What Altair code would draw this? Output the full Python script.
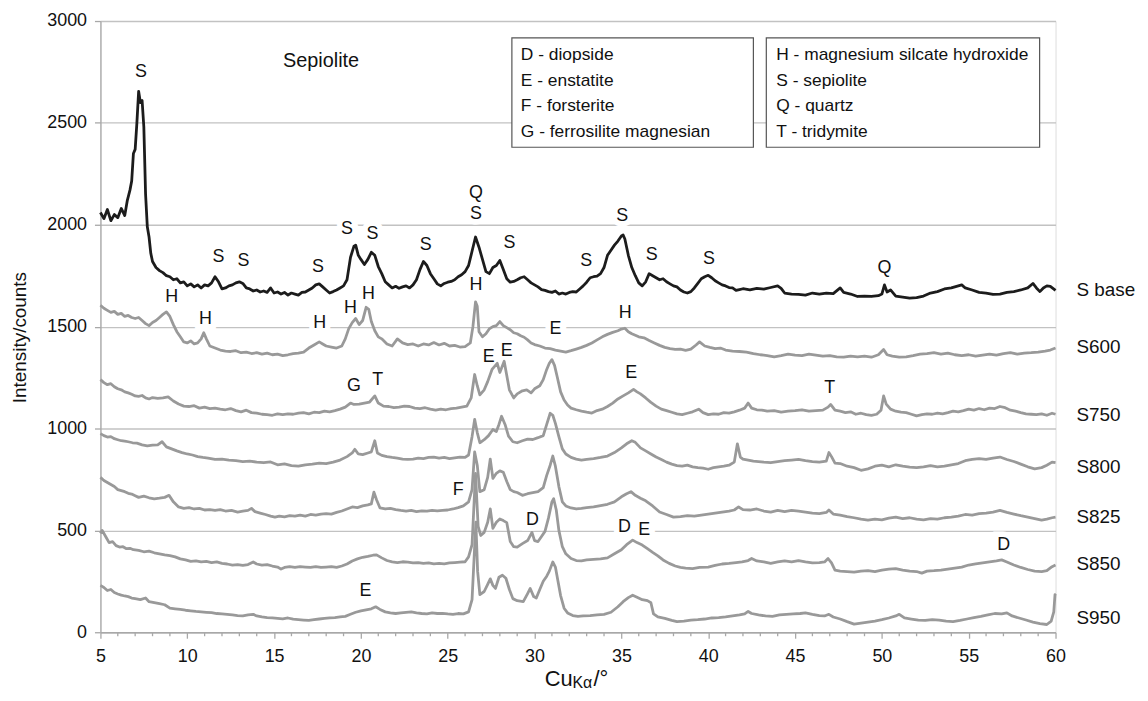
import altair as alt
import pandas as pd

# ---------------- data ----------------
S_BASE = [(5.0,2060),(5.2,2030),(5.4,2075),(5.6,2020),(5.8,2050),(6.0,2035),(6.2,2080),(6.4,2045),(6.55,2120),(6.7,2170),(6.8,2215),(6.9,2350),(7.0,2370),(7.1,2500),(7.2,2655),(7.3,2600),(7.4,2610),(7.5,2480),(7.6,2150),(7.7,1990),(7.8,1940),(7.9,1860),(8.0,1820),(8.2,1790),(8.4,1775),(8.6,1765),(8.8,1750),(9.0,1745),(9.2,1730),(9.4,1735),(9.6,1715),(9.8,1720),(10.0,1700),(10.2,1710),(10.4,1695),(10.6,1705),(10.8,1690),(11.0,1705),(11.2,1700),(11.4,1715),(11.6,1745),(11.8,1720),(12.0,1685),(12.2,1690),(12.4,1700),(12.6,1705),(12.8,1715),(13.0,1720),(13.2,1712),(13.4,1690),(13.6,1685),(13.8,1675),(14.0,1680),(14.2,1670),(14.4,1675),(14.6,1668),(14.8,1690),(15.0,1665),(15.2,1670),(15.4,1660),(15.6,1668),(15.8,1655),(16.0,1665),(16.2,1660),(16.4,1655),(16.6,1668),(16.8,1670),(17.0,1680),(17.2,1690),(17.4,1705),(17.6,1710),(17.8,1695),(18.0,1680),(18.2,1665),(18.4,1672),(18.6,1680),(18.8,1690),(19.0,1700),(19.2,1730),(19.4,1840),(19.6,1895),(19.7,1900),(19.85,1850),(20.0,1830),(20.2,1805),(20.4,1830),(20.6,1865),(20.8,1850),(21.0,1795),(21.2,1760),(21.4,1720),(21.6,1705),(21.8,1690),(22.0,1698),(22.2,1688),(22.4,1695),(22.6,1700),(22.8,1690),(23.0,1705),(23.2,1730),(23.4,1780),(23.6,1820),(23.8,1800),(24.0,1760),(24.2,1735),(24.4,1710),(24.6,1700),(24.8,1712),(25.0,1718),(25.2,1722),(25.4,1730),(25.6,1745),(25.8,1755),(26.0,1770),(26.2,1800),(26.4,1870),(26.6,1940),(26.8,1890),(27.0,1830),(27.2,1770),(27.4,1760),(27.6,1790),(27.8,1800),(28.0,1825),(28.2,1780),(28.4,1735),(28.6,1718),(28.8,1722),(29.0,1730),(29.2,1740),(29.4,1745),(29.6,1730),(29.8,1715),(30.0,1705),(30.2,1695),(30.4,1682),(30.6,1678),(30.8,1672),(31.0,1668),(31.2,1675),(31.4,1660),(31.6,1665),(31.8,1660),(32.0,1668),(32.2,1672),(32.4,1670),(32.6,1685),(32.8,1700),(33.0,1718),(33.2,1740),(33.4,1745),(33.6,1748),(33.8,1760),(34.0,1790),(34.2,1850),(34.4,1875),(34.6,1900),(34.8,1920),(35.0,1945),(35.1,1950),(35.2,1930),(35.4,1850),(35.6,1790),(35.8,1750),(36.0,1715),(36.2,1700),(36.4,1720),(36.6,1760),(36.8,1750),(37.0,1740),(37.2,1730),(37.4,1735),(37.6,1720),(37.8,1710),(38.0,1700),(38.2,1695),(38.4,1680),(38.6,1670),(38.8,1665),(39.0,1672),(39.2,1690),(39.4,1712),(39.6,1735),(39.8,1745),(40.0,1752),(40.2,1740),(40.4,1725),(40.6,1715),(40.8,1705),(41.0,1700),(41.2,1692),(41.4,1690),(41.6,1678),(41.8,1682),(42.0,1686),(42.4,1680),(42.8,1688),(43.2,1684),(43.6,1692),(44.0,1700),(44.2,1688),(44.4,1665),(44.8,1660),(45.2,1658),(45.6,1655),(46.0,1665),(46.4,1660),(46.8,1665),(47.2,1662),(47.6,1690),(47.8,1668),(48.2,1660),(48.6,1648),(49.0,1650),(49.4,1648),(49.8,1652),(50.0,1660),(50.15,1705),(50.3,1670),(50.5,1680),(50.8,1650),(51.2,1645),(51.6,1640),(52.0,1642),(52.4,1650),(52.8,1665),(53.2,1672),(53.6,1685),(54.0,1690),(54.4,1700),(54.6,1705),(54.8,1690),(55.2,1680),(55.6,1668),(56.0,1665),(56.4,1658),(56.8,1660),(57.2,1668),(57.6,1672),(58.0,1680),(58.4,1690),(58.7,1712),(58.9,1690),(59.1,1672),(59.3,1690),(59.5,1700),(59.7,1698),(60.0,1678)]

S600 = [(5.0,1605),(5.2,1590),(5.4,1580),(5.6,1570),(5.8,1575),(6.0,1560),(6.2,1565),(6.4,1550),(6.6,1555),(6.8,1545),(7.0,1540),(7.2,1545),(7.4,1530),(7.6,1515),(7.8,1505),(8.0,1520),(8.2,1530),(8.4,1545),(8.6,1560),(8.8,1572),(9.0,1550),(9.2,1510),(9.4,1475),(9.6,1450),(9.8,1425),(10.0,1420),(10.2,1430),(10.4,1415),(10.6,1420),(10.8,1440),(10.95,1470),(11.1,1440),(11.3,1405),(11.6,1395),(11.9,1385),(12.2,1380),(12.5,1378),(12.8,1382),(13.1,1372),(13.4,1375),(13.7,1368),(14.0,1372),(14.3,1365),(14.6,1370),(14.9,1362),(15.2,1365),(15.5,1358),(15.8,1362),(16.1,1368),(16.4,1370),(16.7,1375),(17.0,1395),(17.3,1410),(17.6,1425),(17.8,1415),(18.0,1405),(18.3,1400),(18.6,1395),(18.9,1405),(19.1,1440),(19.3,1490),(19.5,1520),(19.7,1540),(19.9,1510),(20.1,1530),(20.3,1595),(20.45,1585),(20.6,1525),(20.8,1480),(21.0,1450),(21.2,1440),(21.5,1415),(21.8,1405),(22.1,1440),(22.4,1420),(22.7,1412),(23.0,1415),(23.3,1405),(23.6,1415),(23.9,1410),(24.2,1422),(24.5,1410),(24.8,1418),(25.1,1405),(25.4,1408),(25.7,1400),(26.0,1402),(26.3,1420),(26.45,1500),(26.6,1622),(26.7,1600),(26.8,1475),(27.0,1450),(27.2,1465),(27.4,1490),(27.6,1500),(27.8,1505),(28.0,1525),(28.2,1505),(28.4,1495),(28.6,1485),(28.8,1470),(29.0,1465),(29.2,1455),(29.4,1448),(29.6,1435),(29.8,1420),(30.0,1412),(30.3,1405),(30.6,1395),(30.9,1392),(31.2,1385),(31.5,1380),(31.8,1375),(32.1,1382),(32.4,1390),(32.7,1398),(33.0,1408),(33.3,1420),(33.6,1435),(33.9,1450),(34.2,1462),(34.5,1472),(34.8,1480),(35.0,1488),(35.2,1492),(35.4,1475),(35.6,1465),(35.8,1458),(36.0,1450),(36.3,1445),(36.6,1432),(36.9,1420),(37.2,1408),(37.5,1398),(37.8,1392),(38.1,1388),(38.4,1390),(38.7,1384),(39.0,1390),(39.3,1410),(39.5,1425),(39.8,1405),(40.1,1398),(40.4,1392),(40.7,1395),(41.0,1385),(41.4,1380),(41.8,1378),(42.2,1375),(42.6,1368),(43.0,1362),(43.4,1358),(43.8,1352),(44.2,1358),(44.6,1365),(45.0,1360),(45.4,1358),(45.8,1365),(46.2,1360),(46.6,1355),(47.0,1358),(47.4,1352),(47.8,1350),(48.2,1355),(48.6,1352),(49.0,1355),(49.4,1350),(49.8,1362),(50.1,1388),(50.3,1362),(50.6,1355),(51.0,1350),(51.4,1352),(51.8,1358),(52.2,1365),(52.6,1368),(53.0,1372),(53.4,1365),(53.8,1370),(54.2,1362),(54.6,1358),(55.0,1362),(55.4,1355),(55.8,1360),(56.2,1365),(56.6,1360),(57.0,1368),(57.4,1372),(57.8,1365),(58.2,1370),(58.6,1372),(59.0,1375),(59.4,1380),(59.7,1385),(60.0,1395)]

S750 = [(5.0,1240),(5.2,1225),(5.4,1215),(5.6,1220),(5.8,1205),(6.0,1195),(6.2,1190),(6.4,1180),(6.6,1175),(6.8,1168),(7.0,1160),(7.2,1158),(7.4,1162),(7.6,1150),(7.8,1145),(8.0,1152),(8.3,1148),(8.6,1150),(8.9,1155),(9.2,1135),(9.5,1120),(9.8,1110),(10.1,1108),(10.4,1112),(10.7,1100),(11.0,1105),(11.3,1098),(11.6,1100),(11.9,1095),(12.2,1092),(12.5,1098),(12.8,1088),(13.1,1082),(13.4,1090),(13.7,1078),(14.0,1075),(14.3,1070),(14.6,1068),(14.9,1065),(15.2,1072),(15.5,1068),(15.8,1072),(16.1,1070),(16.4,1075),(16.7,1078),(17.0,1072),(17.3,1080),(17.6,1078),(17.9,1085),(18.2,1082),(18.5,1088),(18.8,1095),(19.1,1105),(19.4,1125),(19.6,1118),(19.9,1120),(20.2,1125),(20.5,1130),(20.8,1160),(21.0,1125),(21.3,1110),(21.6,1108),(21.9,1102),(22.2,1105),(22.5,1110),(22.8,1108),(23.1,1100),(23.4,1098),(23.7,1102),(24.0,1095),(24.3,1090),(24.6,1095),(24.9,1092),(25.2,1098),(25.5,1100),(25.8,1105),(26.1,1110),(26.35,1150),(26.55,1265),(26.7,1210),(26.85,1165),(27.1,1190),(27.3,1230),(27.55,1290),(27.7,1305),(27.85,1320),(28.0,1275),(28.25,1330),(28.4,1260),(28.55,1190),(28.8,1150),(29.0,1170),(29.3,1185),(29.55,1190),(29.8,1175),(30.0,1195),(30.3,1210),(30.5,1240),(30.7,1290),(30.85,1320),(31.0,1338),(31.15,1310),(31.3,1255),(31.5,1180),(31.7,1140),(31.9,1115),(32.1,1100),(32.4,1092),(32.7,1085),(33.0,1080),(33.3,1076),(33.6,1088),(33.9,1095),(34.2,1108),(34.5,1125),(34.8,1145),(35.1,1160),(35.4,1175),(35.7,1192),(35.9,1180),(36.1,1170),(36.4,1150),(36.7,1128),(37.0,1110),(37.3,1095),(37.6,1088),(37.9,1080),(38.2,1072),(38.5,1068),(38.8,1075),(39.1,1082),(39.45,1095),(39.7,1078),(40.0,1068),(40.3,1072),(40.6,1070),(40.9,1078),(41.2,1076),(41.5,1082),(41.8,1090),(42.1,1100),(42.3,1125),(42.5,1100),(42.8,1092),(43.1,1090),(43.4,1085),(43.8,1088),(44.2,1080),(44.6,1085),(45.0,1088),(45.4,1092),(45.8,1085),(46.2,1088),(46.6,1090),(46.9,1105),(47.05,1118),(47.3,1090),(47.6,1085),(47.9,1078),(48.2,1082),(48.5,1070),(48.8,1075),(49.1,1068),(49.4,1065),(49.7,1070),(49.95,1090),(50.1,1160),(50.25,1120),(50.5,1095),(50.8,1085),(51.1,1080),(51.4,1078),(51.7,1070),(52.0,1062),(52.3,1068),(52.6,1072),(52.9,1070),(53.2,1075),(53.5,1072),(53.8,1078),(54.1,1085),(54.4,1082),(54.7,1088),(55.0,1095),(55.3,1090),(55.6,1098),(55.9,1092),(56.2,1100),(56.5,1098),(56.8,1108),(57.1,1102),(57.4,1090),(57.7,1085),(58.0,1078),(58.3,1072),(58.6,1070),(58.9,1068),(59.2,1072),(59.5,1065),(59.8,1075),(60.0,1070)]

S800 = [(5.0,975),(5.2,965),(5.4,958),(5.6,960),(5.8,950),(6.0,945),(6.2,940),(6.4,938),(6.6,935),(6.85,930),(7.1,928),(7.4,920),(7.7,915),(8.0,918),(8.3,920),(8.55,935),(8.8,910),(9.1,900),(9.4,890),(9.7,882),(10.0,875),(10.3,870),(10.6,862),(10.9,858),(11.2,855),(11.6,848),(12.0,850),(12.4,845),(12.8,842),(13.2,838),(13.6,840),(14.0,835),(14.4,832),(14.8,836),(15.2,822),(15.6,826),(16.0,818),(16.4,815),(16.8,822),(17.2,825),(17.6,830),(18.0,828),(18.4,835),(18.8,845),(19.2,862),(19.5,880),(19.65,898),(19.85,875),(20.1,872),(20.4,880),(20.6,885),(20.8,940),(20.95,880),(21.2,868),(21.5,862),(21.8,858),(22.1,855),(22.4,850),(22.7,848),(23.0,850),(23.3,855),(23.6,852),(23.9,858),(24.2,860),(24.5,855),(24.8,858),(25.1,852),(25.4,856),(25.7,860),(26.0,858),(26.2,870),(26.4,960),(26.55,1045),(26.7,980),(26.85,930),(27.1,945),(27.35,965),(27.6,995),(27.8,985),(27.95,1020),(28.1,1060),(28.3,1020),(28.5,963),(28.75,935),(29.0,930),(29.3,940),(29.6,948),(29.9,946),(30.2,955),(30.5,965),(30.7,1020),(30.9,1075),(31.05,1065),(31.2,1025),(31.4,960),(31.6,900),(31.8,875),(32.1,858),(32.4,850),(32.7,845),(33.0,848),(33.4,852),(33.8,858),(34.2,865),(34.6,882),(35.0,905),(35.3,925),(35.6,940),(35.8,932),(36.1,905),(36.4,890),(36.7,875),(37.0,860),(37.3,848),(37.6,835),(37.9,825),(38.2,818),(38.5,815),(38.8,820),(39.1,812),(39.4,808),(39.7,805),(40.0,800),(40.3,808),(40.6,812),(40.9,815),(41.2,820),(41.5,835),(41.68,925),(41.85,860),(42.0,850),(42.3,845),(42.6,840),(42.9,838),(43.2,835),(43.6,832),(44.0,838),(44.4,842),(44.8,845),(45.2,848),(45.6,842),(46.0,838),(46.4,835),(46.8,840),(46.95,882),(47.1,862),(47.3,830),(47.6,828),(48.0,815),(48.4,808),(48.8,795),(49.2,802),(49.6,815),(50.0,820),(50.4,812),(50.8,822),(51.2,815),(51.6,810),(52.0,808),(52.4,812),(52.8,818),(53.2,812),(53.6,815),(54.0,822),(54.4,828),(54.8,842),(55.2,848),(55.6,852),(56.0,848),(56.4,855),(56.8,860),(57.2,848),(57.6,838),(58.0,825),(58.4,812),(58.8,802),(59.2,808),(59.5,820),(59.8,835),(60.0,832)]

S825 = [(5.0,760),(5.2,745),(5.4,735),(5.6,725),(5.8,715),(6.0,700),(6.2,695),(6.4,690),(6.6,682),(6.8,678),(7.0,670),(7.2,662),(7.5,668),(7.8,660),(8.1,655),(8.4,658),(8.7,662),(8.95,672),(9.2,640),(9.5,615),(9.8,608),(10.1,612),(10.4,605),(10.7,608),(11.0,600),(11.3,602),(11.6,598),(11.9,602),(12.2,595),(12.55,598),(12.9,590),(13.2,595),(13.5,598),(13.7,608),(13.9,592),(14.2,585),(14.5,578),(14.8,570),(15.05,565),(15.3,570),(15.6,566),(15.9,572),(16.2,570),(16.5,575),(16.8,570),(17.1,578),(17.4,575),(17.7,580),(18.0,582),(18.3,580),(18.6,588),(18.9,595),(19.2,605),(19.5,615),(19.8,612),(20.1,620),(20.4,625),(20.6,630),(20.75,688),(20.9,650),(21.1,610),(21.4,605),(21.7,608),(22.0,602),(22.3,598),(22.6,595),(22.9,598),(23.2,592),(23.5,596),(23.8,594),(24.1,598),(24.4,596),(24.7,598),(25.0,600),(25.3,605),(25.6,612),(25.9,620),(26.2,640),(26.4,700),(26.55,885),(26.7,820),(26.85,690),(27.1,700),(27.3,760),(27.45,850),(27.6,755),(27.8,780),(28.0,792),(28.2,785),(28.4,740),(28.6,700),(28.8,690),(29.0,686),(29.3,672),(29.6,680),(29.9,685),(30.2,690),(30.5,710),(30.7,770),(30.9,820),(31.05,865),(31.2,815),(31.4,715),(31.6,640),(31.8,620),(32.1,610),(32.4,605),(32.7,608),(33.0,612),(33.4,615),(33.8,622),(34.2,628),(34.6,640),(35.0,665),(35.3,680),(35.55,690),(35.8,672),(36.1,658),(36.4,645),(36.8,620),(37.2,590),(37.6,578),(38.0,565),(38.4,568),(38.8,572),(39.2,570),(39.6,575),(40.0,580),(40.4,585),(40.8,590),(41.2,595),(41.5,600),(41.75,615),(42.0,602),(42.4,600),(42.8,605),(43.2,595),(43.6,590),(44.0,598),(44.4,592),(44.8,598),(45.2,595),(45.6,590),(46.0,585),(46.4,582),(46.8,588),(46.95,600),(47.2,580),(47.6,575),(48.0,568),(48.4,562),(48.8,555),(49.2,550),(49.6,555),(50.0,552),(50.4,560),(50.8,565),(51.2,558),(51.6,562),(52.0,555),(52.4,552),(52.8,558),(53.2,555),(53.6,562),(54.0,565),(54.4,570),(54.8,578),(55.2,575),(55.6,582),(56.0,585),(56.4,590),(56.8,598),(57.2,588),(57.6,580),(58.0,572),(58.4,565),(58.8,558),(59.2,550),(59.5,555),(59.8,562),(60.0,565)]

S850 = [(5.0,485),(5.1,500),(5.3,470),(5.5,440),(5.7,445),(5.9,425),(6.1,418),(6.3,420),(6.5,410),(6.7,412),(6.9,405),(7.2,402),(7.5,395),(7.8,398),(8.1,390),(8.4,385),(8.7,380),(9.0,376),(9.3,370),(9.6,360),(9.9,355),(10.2,348),(10.5,350),(10.8,345),(11.1,348),(11.4,342),(11.7,345),(12.0,338),(12.3,335),(12.6,330),(12.9,332),(13.2,328),(13.5,332),(13.8,345),(14.0,335),(14.3,330),(14.6,332),(14.9,325),(15.2,320),(15.4,310),(15.6,318),(15.9,322),(16.2,318),(16.5,322),(16.8,320),(17.1,318),(17.4,322),(17.7,318),(18.0,320),(18.3,322),(18.6,318),(18.9,325),(19.2,335),(19.5,350),(19.8,360),(20.1,368),(20.4,372),(20.7,378),(20.9,380),(21.2,365),(21.5,352),(21.8,345),(22.1,342),(22.4,346),(22.7,344),(23.0,340),(23.3,342),(23.6,338),(23.9,340),(24.2,336),(24.5,338),(24.8,336),(25.1,340),(25.4,342),(25.7,344),(26.0,346),(26.2,370),(26.4,430),(26.6,780),(26.75,520),(26.9,475),(27.1,490),(27.3,540),(27.45,605),(27.6,510),(27.8,540),(28.0,556),(28.2,548),(28.4,538),(28.6,445),(28.8,420),(29.0,418),(29.3,435),(29.6,450),(29.85,490),(30.0,450),(30.2,445),(30.4,470),(30.6,495),(30.8,560),(31.0,640),(31.1,655),(31.25,600),(31.4,500),(31.6,420),(31.8,385),(32.1,362),(32.4,352),(32.7,350),(33.0,355),(33.4,358),(33.8,360),(34.2,365),(34.6,385),(35.0,405),(35.3,430),(35.65,452),(35.9,440),(36.2,428),(36.5,410),(36.8,392),(37.1,375),(37.4,355),(37.75,338),(38.1,325),(38.4,318),(38.7,315),(39.1,312),(39.5,318),(40.0,320),(40.4,328),(40.8,335),(41.2,338),(41.6,342),(41.95,345),(42.3,352),(42.5,362),(42.8,350),(43.2,345),(43.6,338),(44.0,345),(44.4,350),(44.8,345),(45.2,352),(45.6,345),(46.0,340),(46.4,342),(46.7,345),(46.9,362),(47.1,340),(47.3,305),(47.6,300),(48.0,298),(48.4,295),(48.8,300),(49.2,302),(49.6,298),(50.0,305),(50.4,310),(50.8,312),(51.2,305),(51.6,300),(52.0,298),(52.3,290),(52.6,300),(53.0,302),(53.4,305),(53.8,310),(54.2,315),(54.6,320),(55.0,330),(55.4,335),(55.8,340),(56.2,345),(56.6,350),(56.9,355),(57.2,345),(57.6,330),(58.0,318),(58.4,308),(58.8,300),(59.2,298),(59.5,302),(59.8,322),(60.0,330)]

S950 = [(5.0,230),(5.2,220),(5.4,205),(5.6,210),(5.8,195),(6.0,188),(6.2,182),(6.4,178),(6.6,175),(6.8,168),(7.0,165),(7.3,160),(7.6,168),(7.8,150),(8.1,145),(8.4,140),(8.7,135),(9.0,118),(9.3,115),(9.6,112),(9.9,108),(10.2,105),(10.5,102),(10.8,100),(11.1,98),(11.4,96),(11.7,92),(12.0,90),(12.3,88),(12.6,85),(12.9,82),(13.2,80),(13.5,85),(13.8,88),(14.0,80),(14.3,75),(14.6,72),(14.9,70),(15.2,68),(15.5,66),(15.8,70),(16.1,64),(16.4,62),(16.7,60),(17.0,58),(17.3,62),(17.6,65),(17.9,68),(18.2,70),(18.5,72),(18.8,75),(19.1,78),(19.4,88),(19.7,98),(20.0,105),(20.3,110),(20.6,115),(20.85,125),(21.1,112),(21.4,100),(21.7,95),(22.0,92),(22.3,95),(22.6,98),(22.9,100),(23.2,95),(23.5,92),(23.8,90),(24.1,95),(24.4,92),(24.7,93),(25.0,90),(25.3,88),(25.6,92),(25.9,90),(26.2,100),(26.4,160),(26.62,540),(26.72,300),(26.85,185),(27.1,200),(27.3,235),(27.45,262),(27.6,230),(27.75,215),(27.95,270),(28.15,280),(28.35,265),(28.55,210),(28.75,165),(29.0,155),(29.35,150),(29.6,190),(29.75,215),(29.95,175),(30.1,168),(30.3,210),(30.5,250),(30.7,275),(30.85,300),(31.05,345),(31.2,320),(31.35,250),(31.5,180),(31.7,118),(31.9,95),(32.2,82),(32.5,78),(32.8,80),(33.2,82),(33.6,85),(34.0,88),(34.4,98),(34.8,125),(35.1,150),(35.4,170),(35.65,182),(35.9,172),(36.2,160),(36.5,155),(36.7,145),(36.85,90),(37.1,75),(37.5,68),(37.9,58),(38.2,52),(38.6,55),(39.0,60),(39.4,62),(39.8,65),(40.2,70),(40.6,72),(41.0,75),(41.4,80),(41.8,85),(42.1,90),(42.3,102),(42.5,92),(42.9,85),(43.3,80),(43.7,78),(44.1,85),(44.5,88),(44.9,90),(45.3,92),(45.6,95),(46.0,88),(46.4,82),(46.7,80),(46.95,88),(47.2,75),(47.6,65),(48.0,52),(48.4,40),(48.8,45),(49.2,50),(49.6,55),(50.0,62),(50.4,70),(50.8,80),(51.0,88),(51.3,70),(51.7,65),(52.1,60),(52.5,58),(52.9,62),(53.3,60),(53.7,55),(54.1,52),(54.5,58),(54.9,65),(55.3,72),(55.7,78),(56.1,85),(56.5,92),(56.9,90),(57.2,95),(57.5,80),(57.9,70),(58.3,60),(58.7,50),(59.1,42),(59.5,38),(59.75,55),(59.9,100),(59.97,185),(60.0,180)]

SERIES_NAMES = ["S base", "S600", "S750", "S800", "S825", "S850", "S950"]
SERIES_DATA = [S_BASE, S600, S750, S800, S825, S850, S950]
SERIES_COLORS = ["#1c1c1c", "#999999", "#999999", "#999999", "#999999", "#999999", "#999999"]
SERIES_LABEL_Y = [1678, 1400, 1068, 810, 566, 337, 68]

PEAK_LETTERS = ["S","S","S","S","S","S","S","Q","S","S","S","S","S","S","Q",
                "H","H","H","H","H","H","E","H",
                "G","T","E","E","E","T",
                "F","D","D","E","D","E"]
PEAK_X = [7.33,11.8,13.24,17.53,19.2,20.66,23.73,26.63,26.63,28.56,32.98,35.05,36.74,40.04,50.15,
          9.1,11.05,17.63,19.4,20.43,26.63,31.21,35.22,
          19.6,20.97,27.36,28.4,35.56,47.0,
          25.6,29.88,35.18,36.32,57.02,20.26]
PEAK_Y = [2748,1840,1824,1795,1979,1955,1902,2158,2052,1909,1824,2044,1852,1833,1789,
          1646,1535,1519,1589,1658,1702,1488,1569,
          1207,1236,1350,1382,1272,1198,
          699,553,515,504,426,202]

LEGEND_LEFT = ["D - diopside", "E - enstatite", "F - forsterite", "G - ferrosilite magnesian"]
LEGEND_RIGHT = ["H - magnesium silcate hydroxide", "S - sepiolite", "Q - quartz", "T - tridymite"]

X_TICKS = [5, 10, 15, 20, 25, 30, 35, 40, 45, 50, 55, 60]
Y_TICKS = [0, 500, 1000, 1500, 2000, 2500, 3000]
MINOR_TICKS = [v for v in range(5, 61) if v % 5 != 0]

# ---------------- build tables ----------------
rows = []
for name, pts in zip(SERIES_NAMES, SERIES_DATA):
    for i, (x, y) in enumerate(pts):
        rows.append({"series": name, "x": x, "y": y, "i": i})
lines_df = pd.DataFrame(rows)
peaks_df = pd.DataFrame({"x": PEAK_X, "y": PEAK_Y, "label": PEAK_LETTERS})
slabel_df = pd.DataFrame({"x": [60] * len(SERIES_NAMES), "y": SERIES_LABEL_Y, "label": SERIES_NAMES})
minor_df = pd.DataFrame({"x": MINOR_TICKS})

FONT = "Liberation Sans"
W, H = 961, 615

x_enc = alt.X("x:Q", scale=alt.Scale(domain=[5, 60], nice=False, zero=False),
              axis=alt.Axis(values=X_TICKS, grid=False, title=None, tickSize=6, format="d",
                            labelPadding=9, labelFontSize=18, labelFont=FONT,
                            labelColor="#111111", domainColor="#a8a8a8",
                            tickColor="#a8a8a8", domainWidth=1.3, tickWidth=1.3,
                            labelFlush=False))
y_enc = alt.Y("y:Q", scale=alt.Scale(domain=[0, 3000], nice=False),
              axis=alt.Axis(values=Y_TICKS, grid=True, gridColor="#c2c2c2", gridWidth=1.4,
                            format="d",
                            title="Intensity/counts", titleFont=FONT, titleFontSize=19,
                            titleFontWeight="normal", titleColor="#111111",
                            titleAngle=270, titleX=-81, titleY=318, titleAlign="center",
                            titleBaseline="middle",
                            tickSize=6, labelPadding=8, labelFontSize=18, labelFont=FONT,
                            labelColor="#111111", domainColor="#a8a8a8",
                            tickColor="#a8a8a8", domainWidth=1.3, tickWidth=1.3))

halo = alt.Chart(peaks_df).mark_text(font=FONT, fontSize=18, stroke="white", strokeWidth=11,
                                     fill="white", baseline="middle").encode(
    x=x_enc, y=y_enc, text="label:N")

lines = alt.Chart(lines_df).mark_line(strokeWidth=2.8, strokeJoin="round").encode(
    x=x_enc, y=y_enc,
    color=alt.Color("series:N", scale=alt.Scale(domain=SERIES_NAMES, range=SERIES_COLORS), legend=None),
    order="i:Q")

peak_text = alt.Chart(peaks_df).mark_text(font=FONT, fontSize=18, color="#111111",
                                          baseline="middle").encode(
    x=x_enc, y=y_enc, text="label:N")

series_text = alt.Chart(slabel_df).mark_text(font=FONT, fontSize=19, color="#111111",
                                             align="left", baseline="middle", dx=21).encode(
    x=x_enc, y=y_enc, text="label:N")

minor = alt.Chart(minor_df).mark_rule(color="#a8a8a8", strokeWidth=1.3).encode(
    x=x_enc, y=alt.value(H), y2=alt.value(H + 4))

one = pd.DataFrame({"k": [0]})


def box(x0, x1, y0, y1):
    return alt.Chart(one).mark_rect(fill="white", stroke="#555555", strokeWidth=1.2).encode(
        x=alt.value(x0), x2=alt.value(x1), y=alt.value(y0), y2=alt.value(y1))


def legend_rows(lines_list, x0):
    layers = []
    for k, t in enumerate(lines_list):
        layers.append(alt.Chart(one).mark_text(font=FONT, fontSize=17.5, color="#111111",
                                               align="left", baseline="middle", text=t).encode(
            x=alt.value(x0), y=alt.value(34 + 26 * k)))
    return layers


box1 = box(515 - 101, 758 - 101, 36 - 19, 146 - 19)
box2 = box(771 - 101, 1046 - 101, 36 - 19, 146 - 19)

title_s = alt.Chart(one).mark_text(font=FONT, fontSize=20, color="#111111", text="Sepiolite",
                                   align="center", baseline="middle").encode(
    x=alt.value(323 - 101), y=alt.value(59 - 19))

xt1 = alt.Chart(one).mark_text(font=FONT, fontSize=22, color="#111111", text="Cu",
                               align="left", baseline="alphabetic").encode(
    x=alt.value(548 - 101), y=alt.value(688 - 19))
xt2 = alt.Chart(one).mark_text(font=FONT, fontSize=16, color="#111111", text="Kα",
                               align="left", baseline="alphabetic").encode(
    x=alt.value(576 - 101), y=alt.value(690 - 19))
xt3 = alt.Chart(one).mark_text(font=FONT, fontSize=22, color="#111111", text="/°",
                               align="left", baseline="alphabetic").encode(
    x=alt.value(597 - 101), y=alt.value(688 - 19))

layers = [halo, lines, peak_text, series_text, minor, box1, box2] + \
         legend_rows(LEGEND_LEFT, 524 - 101) + legend_rows(LEGEND_RIGHT, 781 - 101) + \
         [title_s, xt1, xt2, xt3]

chart = alt.layer(*layers).properties(
    width=W, height=H,
    autosize=alt.AutoSizeParams(type="none"),
    padding={"left": 93, "top": 11, "right": 85, "bottom": 56},
).configure_view(stroke=None).configure(background="white")

chart.save("out.html", embed_options={"renderer": "svg", "actions": False})
